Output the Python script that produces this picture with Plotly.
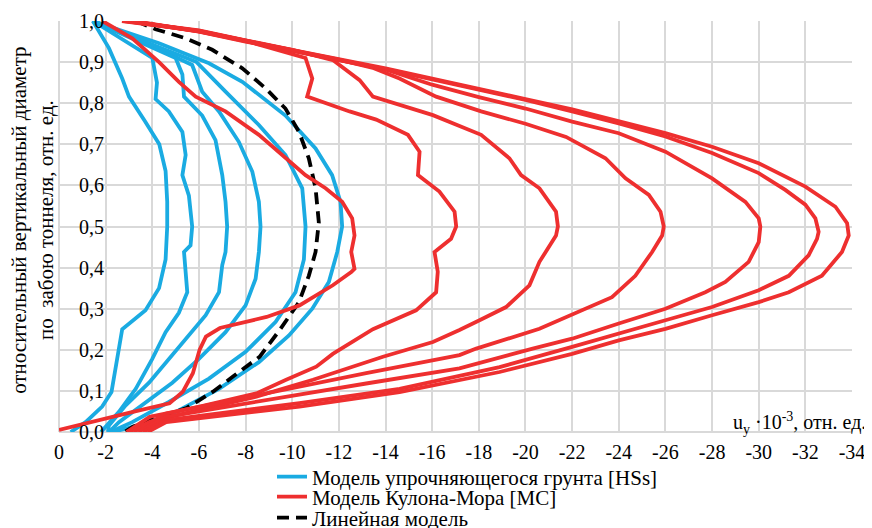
import plotly.graph_objects as go

FONT = "'Liberation Serif', 'Times New Roman', Times, 'DejaVu Serif', serif"

# ---- axis ticks ----
x_tickvals = [0, -2, -4, -6, -8, -10, -12, -14, -16, -18, -20, -22, -24, -26, -28, -30, -32, -34]
x_ticktext = ["0", "-2", "-4", "-6", "-8", "-10", "-12", "-14", "-16", "-18", "-20", "-22",
              "-24", "-26", "-28", "-30", "-32", "-34"]
y_tickvals = [0.0, 0.1, 0.2, 0.3, 0.4, 0.5, 0.6, 0.7, 0.8, 0.9, 1.0]
y_ticktext = ["0,0", "0,1", "0,2", "0,3", "0,4", "0,5", "0,6", "0,7", "0,8", "0,9", "1,0"]

# ---- HSs model (hardening soil small) ----
hs1_x = [-1.45, -2.14, -2.71, -3.0, -3.7, -4.3, -4.57, -4.64, -4.64, -4.57, -4.29, -3.71, -2.71, -2.5, -2.35, -2.25, -1.85, -1.14, -0.5]
hs1_y = [1.0, 0.934, 0.86, 0.816, 0.755, 0.70, 0.635, 0.56, 0.50, 0.42, 0.35, 0.296, 0.25, 0.178, 0.127, 0.097, 0.062, 0.024, 0.0]

hs2_x = [-1.45, -2.6, -3.5, -4.0, -4.2, -4.14, -4.71, -5.29, -5.43, -5.29, -5.57, -5.71, -5.64, -5.36, -5.5, -5.14, -4.57, -4.0, -3.29, -2.57, -1.8]
hs2_y = [1.0, 0.96, 0.93, 0.91, 0.85, 0.81, 0.78, 0.73, 0.674, 0.625, 0.575, 0.50, 0.454, 0.438, 0.34, 0.29, 0.243, 0.178, 0.105, 0.049, 0.0]

hs3_x = [-1.45, -3.29, -5.0, -5.29, -5.36, -6.14, -6.71, -7.0, -7.14, -7.21, -7.14, -7.0, -6.86, -6.29, -5.57, -4.71, -3.86, -2.86, -2.14, -2.1]
hs3_y = [1.0, 0.954, 0.91, 0.87, 0.816, 0.77, 0.71, 0.625, 0.56, 0.50, 0.438, 0.406, 0.34, 0.284, 0.235, 0.178, 0.12, 0.065, 0.016, 0.0]

hs4_x = [-1.45, -3.4, -5.71, -6.14, -6.86, -7.71, -8.29, -8.57, -8.64, -8.57, -8.43, -8.0, -7.14, -6.0, -4.86, -3.57, -2.57, -2.14]
hs4_y = [1.0, 0.955, 0.893, 0.828, 0.78, 0.706, 0.633, 0.56, 0.50, 0.438, 0.373, 0.308, 0.243, 0.178, 0.12, 0.065, 0.024, 0.0]

hs5_x = [-1.45, -3.5, -5.9, -7.14, -8.57, -9.71, -10.43, -10.57, -10.5, -10.14, -9.29, -8.0, -6.43, -4.71, -3.14, -2.2]
hs5_y = [1.0, 0.955, 0.9, 0.828, 0.747, 0.674, 0.593, 0.50, 0.42, 0.34, 0.268, 0.195, 0.13, 0.073, 0.024, 0.0]

hs6_x = [-1.45, -4.29, -6.43, -7.86, -9.71, -11.0, -11.71, -12.07, -12.14, -11.93, -11.57, -10.86, -9.86, -8.57, -6.86, -4.71, -2.86, -2.3]
hs6_y = [1.0, 0.946, 0.897, 0.852, 0.77, 0.69, 0.625, 0.56, 0.50, 0.438, 0.365, 0.30, 0.235, 0.17, 0.105, 0.04, 0.008, 0.0]

# ---- Mohr-Coulomb model ----
mc1_x = [-1.86, -3.14, -4.29, -5.14, -5.86, -7.14, -8.57, -9.71, -10.57, -11.43, -12.14, -12.57, -12.67, -12.53, -12.67, -12.53, -11.74, -10.31, -8.9, -6.9, -6.3, -6.03, -5.74, -5.31, -4.74, -3.17, -1.74, 0.0]
mc1_y = [1.0, 0.958, 0.9, 0.852, 0.816, 0.78, 0.723, 0.666, 0.625, 0.593, 0.56, 0.52, 0.478, 0.438, 0.397, 0.389, 0.357, 0.308, 0.28, 0.253, 0.232, 0.20, 0.143, 0.098, 0.07, 0.049, 0.029, 0.005]

mc2_x = [-2.7, -6.0, -8.0, -10.57, -10.86, -10.64, -12.46, -13.6, -14.96, -15.46, -15.39, -16.31, -16.96, -17.03, -16.81, -16.1, -16.24, -16.17, -15.31, -13.46, -11.74, -11.03, -9.74, -8.46, -6.03, -3.89, -2.9]
mc2_y = [1.0, 0.976, 0.952, 0.91, 0.86, 0.816, 0.78, 0.76, 0.723, 0.682, 0.625, 0.585, 0.536, 0.50, 0.47, 0.438, 0.39, 0.34, 0.296, 0.25, 0.19, 0.159, 0.127, 0.094, 0.062, 0.037, 0.0]

mc3_x = [-2.8, -6.0, -8.0, -10.0, -11.74, -12.89, -13.46, -16.03, -18.1, -19.31, -19.81, -20.6, -21.31, -21.39, -21.31, -20.89, -20.6, -20.17, -19.17, -18.03, -17.17, -16.03, -13.89, -10.89, -9.6, -8.46, -6.03, -3.89, -3.0]
mc3_y = [1.0, 0.977, 0.953, 0.93, 0.905, 0.856, 0.816, 0.771, 0.723, 0.666, 0.625, 0.593, 0.536, 0.50, 0.478, 0.442, 0.414, 0.357, 0.304, 0.272, 0.248, 0.219, 0.183, 0.127, 0.106, 0.086, 0.054, 0.025, 0.0]

mc4_x = [-2.9, -6.0, -8.0, -10.0, -12.0, -13.5, -14.6, -16.17, -18.1, -20.0, -21.74, -23.43, -24.29, -25.29, -25.79, -25.93, -25.86, -25.43, -24.71, -23.71, -22.0, -20.6, -17.89, -17.17, -13.17, -10.31, -7.46, -4.6, -3.2]
mc4_y = [1.0, 0.976, 0.952, 0.93, 0.906, 0.885, 0.86, 0.816, 0.78, 0.75, 0.718, 0.666, 0.617, 0.577, 0.536, 0.50, 0.478, 0.438, 0.38, 0.328, 0.287, 0.251, 0.203, 0.187, 0.143, 0.11, 0.078, 0.045, 0.0]

mc5_x = [-3.0, -6.0, -8.0, -10.0, -12.0, -14.0, -16.0, -18.0, -20.0, -22.0, -24.0, -26.0, -28.0, -29.43, -30.0, -30.07, -30.0, -29.57, -28.57, -27.71, -26.0, -24.0, -22.0, -20.31, -17.17, -13.17, -8.89, -4.6, -3.4]
mc5_y = [1.0, 0.975, 0.951, 0.929, 0.905, 0.882, 0.845, 0.815, 0.787, 0.755, 0.727, 0.682, 0.617, 0.56, 0.52, 0.50, 0.462, 0.414, 0.365, 0.34, 0.30, 0.264, 0.227, 0.203, 0.155, 0.118, 0.078, 0.037, 0.0]

mc6_x = [-3.1, -6.0, -8.0, -10.0, -12.0, -14.0, -16.0, -18.0, -20.0, -22.0, -24.0, -26.0, -28.0, -30.0, -31.14, -32.0, -32.43, -32.57, -32.5, -32.14, -31.29, -30.0, -28.0, -26.0, -24.0, -22.0, -18.89, -14.6, -10.31, -4.6, -3.6]
mc6_y = [1.0, 0.974, 0.95, 0.928, 0.905, 0.883, 0.858, 0.834, 0.808, 0.78, 0.751, 0.719, 0.679, 0.63, 0.589, 0.553, 0.52, 0.487, 0.47, 0.43, 0.38, 0.345, 0.304, 0.272, 0.239, 0.207, 0.158, 0.105, 0.07, 0.029, 0.0]

mc7_x = [-3.2, -6.0, -8.0, -10.0, -12.0, -14.0, -16.0, -18.0, -20.0, -22.0, -24.0, -26.0, -28.0, -30.0, -32.0, -33.29, -33.79, -33.86, -33.86, -33.57, -32.71, -31.29, -30.0, -28.0, -26.0, -24.0, -22.0, -18.89, -14.6, -10.31, -4.6, -3.8]
mc7_y = [1.0, 0.975, 0.952, 0.93, 0.907, 0.885, 0.86, 0.836, 0.81, 0.785, 0.757, 0.727, 0.694, 0.654, 0.597, 0.548, 0.508, 0.487, 0.478, 0.438, 0.38, 0.34, 0.316, 0.284, 0.251, 0.223, 0.19, 0.146, 0.097, 0.062, 0.024, 0.0]

# ---- Linear model ----
lin_x = [-3.3, -4.14, -5.43, -6.57, -7.86, -8.86, -9.71, -10.29, -10.71, -11.0, -11.14, -11.0, -10.71, -10.29, -9.46, -8.6, -7.46, -6.6, -5.46, -4.31, -3.17, -2.8]
lin_y = [1.0, 0.98, 0.958, 0.93, 0.885, 0.836, 0.787, 0.73, 0.666, 0.593, 0.51, 0.438, 0.38, 0.316, 0.248, 0.183, 0.135, 0.098, 0.058, 0.037, 0.013, 0.0]

hs_curves = [(hs1_x, hs1_y), (hs2_x, hs2_y), (hs3_x, hs3_y), (hs4_x, hs4_y), (hs5_x, hs5_y), (hs6_x, hs6_y)]
mc_curves = [(mc1_x, mc1_y), (mc2_x, mc2_y), (mc3_x, mc3_y), (mc4_x, mc4_y), (mc5_x, mc5_y), (mc6_x, mc6_y), (mc7_x, mc7_y)]

NAME_HS = "Модель упрочняющегося грунта [HSs]"
NAME_MC = "Модель Кулона-Мора [MC]"
NAME_LIN = "Линейная модель"

BLUE = "#1AABE2"
RED = "#EE2F2F"
LW = 3.8
FS = 20
FS_LEG = 21

fig = go.Figure()
for i, (xs, ys) in enumerate(hs_curves):
    fig.add_trace(go.Scatter(x=xs, y=ys, mode="lines", name=NAME_HS, legendgroup="hs",
                             showlegend=(i == 0), legend="legend",
                             line=dict(color=BLUE, width=LW)))
fig.add_trace(go.Scatter(x=lin_x, y=lin_y, mode="lines", name=NAME_LIN, legendgroup="lin",
                         legend="legend3", line=dict(color="black", width=LW, dash="12px,7px")))
for i, (xs, ys) in enumerate(mc_curves):
    fig.add_trace(go.Scatter(x=xs, y=ys, mode="lines", name=NAME_MC, legendgroup="mc",
                             showlegend=(i == 0), legend="legend2",
                             line=dict(color=RED, width=LW)))

GRID = "#D9D9D9"
leg_common = dict(x=0.2686, xanchor="left", yanchor="middle", bgcolor="rgba(0,0,0,0)",
                  font=dict(family=FONT, size=FS_LEG, color="black"))
fig.update_layout(
    width=864, height=520,
    margin=dict(l=51, r=20, t=13, b=96, autoexpand=False),
    paper_bgcolor="white", plot_bgcolor="white",
    font=dict(family=FONT, size=FS, color="black"),
    showlegend=True,
    legend=dict(y=-0.1095, **leg_common),
    legend2=dict(y=-0.158, **leg_common),
    legend3=dict(y=-0.209, **leg_common),
    xaxis=dict(range=[0, -34], tickvals=x_tickvals, ticktext=x_ticktext,
               showgrid=True, gridcolor=GRID, gridwidth=1.5,
               zeroline=True, zerolinecolor=GRID, zerolinewidth=1.5,
               showline=False, ticks="", ticklabelstandoff=6,
               tickfont=dict(family=FONT, size=FS, color="black")),
    yaxis=dict(range=[0, 1], tickvals=y_tickvals, ticktext=y_ticktext,
               anchor="free", position=0.0567,
               showgrid=True, gridcolor=GRID, gridwidth=1.5,
               zeroline=True, zerolinecolor=GRID, zerolinewidth=1.5,
               showline=False, ticks="",
               tickfont=dict(family=FONT, size=FS, color="black")),
)

fig.add_annotation(xref="paper", yref="paper", x=-0.0334, y=0.515,
                   text="относительный вертикальный диаметр<br>по  забою тоннеля, отн. ед.",
                   textangle=-90, showarrow=False, xanchor="center", yanchor="middle",
                   font=dict(family=FONT, size=FS_LEG, color="black"))
fig.add_annotation(xref="paper", yref="paper", x=1.0202, y=0.0, yshift=-7,
                   text="u<sub>y</sub> ·10<sup>-3</sup>, отн. ед.",
                   showarrow=False, xanchor="right", yanchor="bottom",
                   font=dict(family=FONT, size=FS, color="black"))

fig.write_html("out.html")
